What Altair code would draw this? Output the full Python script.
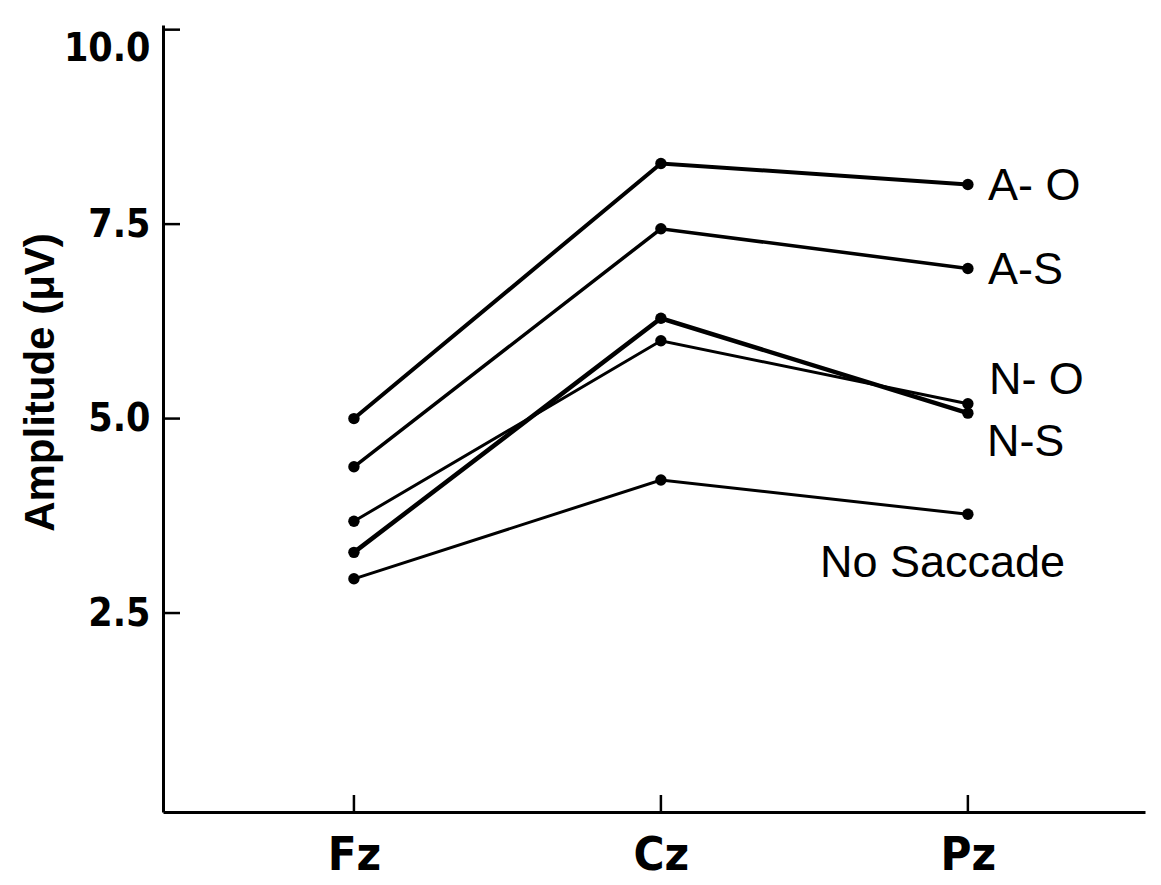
import altair as alt
import pandas as pd

electrodes = ["Fz", "Cz", "Pz"]
positions = [0, 1, 2]
series_names = ["A-O", "A-S", "N-O", "N-S", "No Saccade"]
a_o = [5.00, 8.28, 8.01]
a_s = [4.38, 7.44, 6.93]
n_o = [3.68, 6.00, 5.19]
n_s = [3.28, 6.29, 5.07]
no_sacc = [2.94, 4.21, 3.77]
stroke_widths = [4.0, 3.5, 3.0, 4.5, 3.0]

label_texts = ["A- O", "A-S", "N- O", "N-S", "No Saccade"]
label_y = [7.99, 6.91, 5.50, 4.70, 3.14]
label_dx = [20, 20, 21, 19, -148]

y_ticks = [2.5, 5.0, 7.5, 10.0]

rows = []
for name, vals in zip(series_names, [a_o, a_s, n_o, n_s, no_sacc]):
    for p, v in zip(positions, vals):
        rows.append({"series": name, "pos": p, "amp": v})
df = pd.DataFrame(rows)

lab_df = pd.DataFrame({"text": label_texts, "pos": [2] * 5, "amp": label_y})
ytick_df = pd.DataFrame({"amp": y_ticks})
xtick_df = pd.DataFrame({"pos": positions})

NARROW = "DejaVu Sans Condensed, Liberation Sans, sans-serif"
FONT = "Liberation Sans"
xscale = alt.Scale(domain=[-0.622, 2.577], nice=False, zero=False)
yscale = alt.Scale(domain=[-0.058, 10.06], nice=False, zero=False)

x_enc = alt.X("pos:Q", scale=xscale, axis=alt.Axis(
    values=positions, labelExpr="['Fz','Cz','Pz'][datum.value]", title=None,
    grid=False, ticks=False, domainColor="black", domainWidth=3,
    labelFont=NARROW, labelFontSize=47, labelFontWeight="bold",
    labelColor="black", labelPadding=20))
y_enc = alt.Y("amp:Q", scale=yscale, axis=alt.Axis(
    values=y_ticks, format=".1f", title="Amplitude (\u03bcV)", grid=False, ticks=False,
    domainColor="black", domainWidth=3, labelFont=NARROW, labelFontSize=39,
    labelFontWeight="bold", labelColor="black", labelPadding=13,
    labelBaseline=alt.condition("datum.value == 10", alt.value("top"), alt.value("middle")),
    titleFont=FONT, titleFontSize=42, titleFontWeight="bold", titleColor="black",
    titleAngle=270, titleAlign="center", titleBaseline="middle",
    titleX=-123, titleY=357))

layers = []
for name, sw in zip(series_names, stroke_widths):
    layers.append(
        alt.Chart(df[df.series == name]).mark_line(color="black", strokeWidth=sw)
        .encode(x=x_enc, y=y_enc)
    )
points = alt.Chart(df).mark_circle(color="black", opacity=1, size=130).encode(x="pos:Q", y="amp:Q")

ytick_rules = alt.Chart(ytick_df).mark_rule(color="black", strokeWidth=2.5).encode(
    y="amp:Q", x=alt.value(0), x2=alt.value(17))
xtick_rules = alt.Chart(xtick_df).mark_rule(color="black", strokeWidth=2.5).encode(
    x="pos:Q", y=alt.value(787), y2=alt.value(770))

label_layers = []
for i, dx in enumerate(label_dx):
    label_layers.append(
        alt.Chart(lab_df.iloc[[i]]).mark_text(
            align="left", baseline="middle", font=FONT, fontSize=45, color="black", dx=dx
        ).encode(x="pos:Q", y="amp:Q", text="text:N")
    )

chart = alt.layer(*layers, points, ytick_rules, xtick_rules, *label_layers).properties(
    width=982, height=787, autosize="none", background="white",
    padding={"left": 163, "top": 25, "right": 16, "bottom": 73},
).configure_view(stroke=None)

chart.save("out.html", embed_options={"renderer": "svg", "actions": False})
